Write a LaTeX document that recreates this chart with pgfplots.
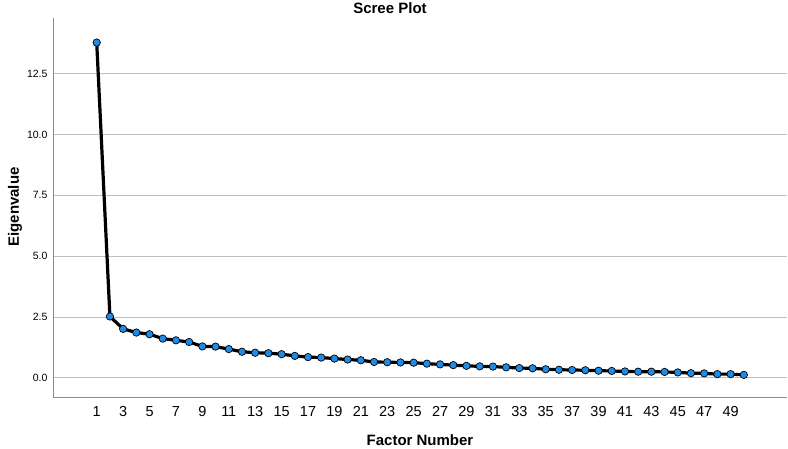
\documentclass[border=0pt]{standalone}
\usepackage{pgfplots}
\pgfplotsset{compat=1.18}
\usepackage{fontspec}
\setmainfont{Liberation Sans}
\definecolor{gridgray}{RGB}{192,192,192}
\definecolor{axisgray}{RGB}{140,140,140}
\definecolor{markblue}{RGB}{30,140,230}
\begin{document}
\begin{tikzpicture}
\useasboundingbox (0pt,0pt) rectangle (788pt,449pt);
\begin{axis}[
  at={(53pt,52pt)}, anchor=south west,
  scale only axis, width=734pt, height=379pt,
  xmin=-2.31, xmax=53.27, ymin=-0.79, ymax=14.79,
  axis x line*=bottom, axis y line*=left,
  axis line style={axisgray, line width=0.8pt},
  xtick={1,3,...,49}, ytick={0,2.5,...,12.5},
  y tick label style={/pgf/number format/fixed, /pgf/number format/fixed zerofill, /pgf/number format/precision=1},
  major tick length=0pt,
  ymajorgrids, grid style={gridgray, line width=0.8pt},
  /pgf/number format/assume math mode=true,
  x tick label style={font=\fontsize{14.5}{14.5}\selectfont, yshift=-5pt, text height=10.5pt, text depth=0pt},
  y tick label style={font=\fontsize{10.5}{10.5}\selectfont, xshift=-2pt},
  clip=false,
]
\addplot[black, line width=3.2pt, mark=*, mark size=3.7pt,
  mark options={fill=markblue, draw=black, line width=0.7pt}]
coordinates {
(1,13.78) (2,2.52) (3,2.01) (4,1.86) (5,1.79) (6,1.61) (7,1.54) (8,1.47)
(9,1.29) (10,1.28) (11,1.18) (12,1.07) (13,1.03) (14,1.01) (15,0.97)
(16,0.90) (17,0.85) (18,0.83) (19,0.79) (20,0.75) (21,0.72) (22,0.65)
(23,0.64) (24,0.63) (25,0.62) (26,0.58) (27,0.55) (28,0.52) (29,0.49)
(30,0.47) (31,0.46) (32,0.43) (33,0.40) (34,0.39) (35,0.35) (36,0.33)
(37,0.32) (38,0.31) (39,0.29) (40,0.28) (41,0.26) (42,0.25) (43,0.25)
(44,0.24) (45,0.22) (46,0.19) (47,0.18) (48,0.15) (49,0.15) (50,0.12)
};
\end{axis}
\node[font=\fontsize{15}{15}\selectfont\bfseries] at (390pt,441pt) {Scree Plot};
\node[font=\fontsize{15}{15}\selectfont\bfseries] at (420pt,9pt) {Factor Number};
\node[font=\fontsize{15}{15}\selectfont\bfseries, rotate=90] at (15pt,242pt) {Eigenvalue};
\end{tikzpicture}
\end{document}
